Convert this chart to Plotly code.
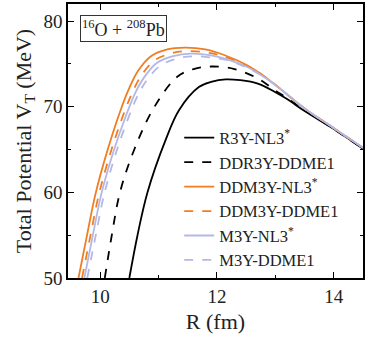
import plotly.graph_objects as go

# --- data ---
names = ["R3Y-NL3<sup>*</sup>", "DDR3Y-DDME1", "DDM3Y-NL3<sup>*</sup>",
         "DDM3Y-DDME1", "M3Y-NL3<sup>*</sup>", "M3Y-DDME1"]

r_r3y_nl3 = [10.50, 10.64, 10.81, 11.12, 11.35, 11.69, 11.9, 12.15, 12.4, 12.7, 13.0, 13.2, 13.5, 14.0, 14.5]
v_r3y_nl3 = [50.0, 55.0, 60.0, 66.1, 69.6, 72.3, 72.9, 73.2, 73.1, 72.7, 71.7, 70.9, 69.5, 67.4, 65.1]

r_ddr3y_ddme1 = [10.08, 10.20, 10.34, 10.59, 10.93, 11.32, 11.6, 11.9, 12.3, 12.7, 13.0, 13.2, 13.5, 14.0, 14.5]
v_ddr3y_ddme1 = [50.0, 55.0, 60.0, 65.1, 70.0, 73.5, 74.4, 74.7, 74.4, 73.3, 71.9, 71.0, 69.6, 67.4, 65.1]

r_ddm3y_nl3 = [9.63, 9.77, 9.92, 10.13, 10.35, 10.50, 10.65, 10.87, 11.15, 11.45, 11.8, 12.1, 12.5, 12.8, 13.1, 13.5, 14.0, 14.5]
v_ddm3y_nl3 = [50.0, 54.8, 59.8, 65.0, 69.6, 72.2, 74.2, 75.9, 76.7, 76.9, 76.7, 76.1, 74.9, 73.6, 72.0, 69.8, 67.5, 65.2]

r_ddm3y_ddme1 = [9.69, 9.83, 9.98, 10.19, 10.41, 10.56, 10.71, 10.93, 11.2, 11.5, 11.85, 12.1, 12.5, 12.8, 13.1, 13.5, 14.0, 14.5]
v_ddm3y_ddme1 = [50.0, 54.8, 59.8, 64.9, 69.3, 71.8, 73.7, 75.4, 76.2, 76.5, 76.3, 75.9, 74.8, 73.6, 72.0, 69.8, 67.5, 65.2]

r_m3y_nl3 = [9.73, 9.87, 10.02, 10.23, 10.45, 10.60, 10.75, 10.97, 11.25, 11.55, 11.9, 12.15, 12.5, 12.8, 13.1, 13.5, 14.0, 14.5]
v_m3y_nl3 = [50.0, 54.8, 59.8, 64.8, 69.1, 71.6, 73.4, 75.1, 75.9, 76.2, 76.0, 75.6, 74.7, 73.5, 72.0, 69.8, 67.5, 65.2]

r_m3y_ddme1 = [9.78, 9.92, 10.07, 10.28, 10.50, 10.65, 10.81, 11.03, 11.3, 11.6, 11.95, 12.2, 12.5, 12.8, 13.1, 13.5, 14.0, 14.5]
v_m3y_ddme1 = [50.0, 54.8, 59.8, 64.8, 69.0, 71.4, 73.2, 74.8, 75.6, 75.9, 75.7, 75.4, 74.6, 73.5, 72.0, 69.8, 67.5, 65.2]

x_ticks = [10, 12, 14]
y_ticks = [50, 60, 70, 80]

series = [
    (r_r3y_nl3, v_r3y_nl3, "#000000", "solid"),
    (r_ddr3y_ddme1, v_ddr3y_ddme1, "#000000", "dash"),
    (r_ddm3y_nl3, v_ddm3y_nl3, "#F07D22", "solid"),
    (r_ddm3y_ddme1, v_ddm3y_ddme1, "#F07D22", "dash"),
    (r_m3y_nl3, v_m3y_nl3, "#B3B8E6", "solid"),
    (r_m3y_ddme1, v_m3y_ddme1, "#B3B8E6", "dash"),
]

FONT = "Liberation Serif, Times New Roman, serif"

fig = go.Figure()
for name, (xs, ys, col, dash) in zip(names, series):
    fig.add_trace(go.Scatter(
        x=xs, y=ys, mode="lines", name=name,
        line=dict(color=col, width=1.8, dash=dash, shape="spline", smoothing=1.0),
    ))

axis_common = dict(
    showline=True, linecolor="black", linewidth=1.5, mirror="ticks",
    ticks="inside", ticklen=6, tickwidth=1.3, tickcolor="black",
    showgrid=False, zeroline=False,
    tickfont=dict(family=FONT, size=19, color="#222"),
)

fig.update_xaxes(
    range=[9.45, 14.5], tickvals=x_ticks,
    minor=dict(ticks="inside", ticklen=3.5, tickwidth=1.2, tickcolor="black", dtick=1, tick0=0),
    title=dict(text="R (fm)", font=dict(family=FONT, size=22, color="#222"), standoff=8),
    **axis_common,
)
fig.update_yaxes(
    range=[50, 82], tickvals=y_ticks,
    minor=dict(ticks="inside", ticklen=3.5, tickwidth=1.2, tickcolor="black", dtick=5, tick0=0),
    title=dict(text="Total Potential V<sub>T</sub> (MeV)", font=dict(family=FONT, size=22, color="#222"), standoff=6),
    **axis_common,
)

fig.add_annotation(
    x=0.04, y=0.96, xref="paper", yref="paper", xanchor="left", yanchor="top",
    text="<sup>16</sup>O + <sup>208</sup>Pb", showarrow=False,
    font=dict(family=FONT, size=18, color="#222"),
    bordercolor="#333", borderwidth=1, borderpad=1, bgcolor="white",
)

fig.update_layout(
    width=367, height=337,
    margin=dict(l=68, r=2, t=4, b=59),
    paper_bgcolor="white", plot_bgcolor="white",
    showlegend=True,
    legend=dict(
        x=0.377, y=0.575, xanchor="left", yanchor="top",
        bgcolor="rgba(0,0,0,0)", borderwidth=0,
        font=dict(family=FONT, size=16.5, color="#222"),
        tracegroupgap=0,
    ),
)

fig.write_html("out.html", config={"displayModeBar": False},
               post_script="document.body.style.margin='0';")
